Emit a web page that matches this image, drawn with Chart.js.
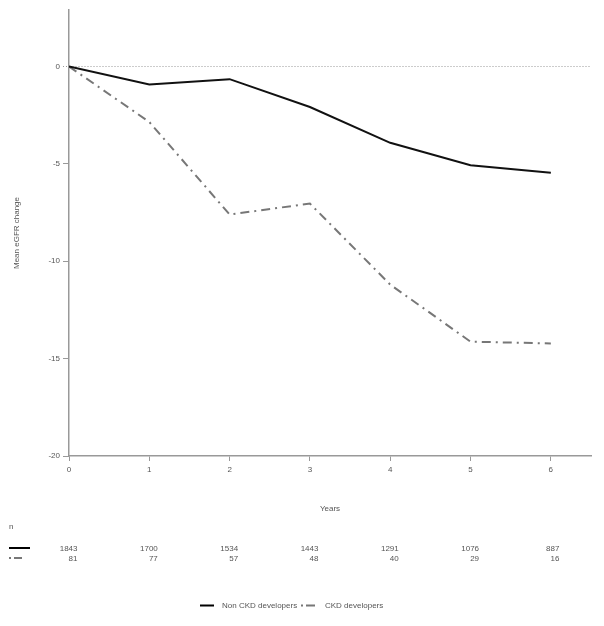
<!DOCTYPE html>
<html><head><meta charset="utf-8">
<script src="https://cdn.jsdelivr.net/npm/chart.js@4/dist/chart.umd.min.js"></script>
<style>html,body{margin:0;padding:0;background:#fff}#wrap{width:604px;height:626px;position:relative}</style>
</head><body><div id="wrap"><canvas id="c" width="604" height="626"></canvas></div>
<script>
const years = [0, 1, 2, 3, 4, 5, 6];
const nonCkd = [0, -0.92, -0.65, -2.08, -3.92, -5.07, -5.46];
const ckd = [0, -2.85, -7.6, -7.04, -11.2, -14.13, -14.22];
const seriesNames = ['Non CKD developers', 'CKD developers'];
const nNonCkd = [1843, 1700, 1534, 1443, 1291, 1076, 887];
const nCkd = [81, 77, 57, 48, 40, 29, 16];
const yTicks = [0, -5, -10, -15, -20];

const FONT = '"Liberation Sans", Arial, sans-serif';
const TXT = '#555';
const DASH = [9, 5, 2, 5];

const bottomPlugin = {
  id: 'bottomTable',
  afterDraw(chart) {
    const ctx = chart.ctx, x = chart.scales.x;
    ctx.save();
    ctx.font = '8px ' + FONT;
    ctx.fillStyle = TXT;
    ctx.textBaseline = 'middle';
    ctx.textAlign = 'left';
    ctx.fillText('n', 9, 527);
    ctx.lineWidth = 2;
    ctx.strokeStyle = '#000';
    ctx.beginPath(); ctx.moveTo(9, 548); ctx.lineTo(30, 548); ctx.stroke();
    ctx.strokeStyle = '#777';
    ctx.setLineDash([2, 3, 8, 20]);
    ctx.beginPath(); ctx.moveTo(9, 558); ctx.lineTo(25, 558); ctx.stroke();
    ctx.setLineDash([]);
    ctx.textAlign = 'right';
    years.forEach((yr, i) => {
      const px = x.getPixelForValue(yr) + 8.5;
      ctx.fillText(String(nNonCkd[i]), px, 549);
      ctx.fillText(String(nCkd[i]), px, 559);
    });
    ctx.textAlign = 'left';
    ctx.strokeStyle = '#000';
    ctx.beginPath(); ctx.moveTo(200, 605.5); ctx.lineTo(214, 605.5); ctx.stroke();
    ctx.fillText(seriesNames[0], 222, 606);
    ctx.strokeStyle = '#777';
    ctx.setLineDash([2, 3, 9, 20]);
    ctx.beginPath(); ctx.moveTo(301, 605.5); ctx.lineTo(317, 605.5); ctx.stroke();
    ctx.setLineDash([]);
    ctx.fillText(seriesNames[1], 325, 606);
    ctx.restore();
  }
};

new Chart(document.getElementById('c'), {
  type: 'line',
  data: {
    datasets: [
      { label: seriesNames[0], data: years.map((y, i) => ({x: y, y: nonCkd[i]})),
        borderColor: '#111', borderWidth: 2, pointRadius: 0, tension: 0, fill: false },
      { label: seriesNames[1], data: years.map((y, i) => ({x: y, y: ckd[i]})),
        borderColor: '#777', borderWidth: 2, borderDash: DASH, pointRadius: 0, tension: 0, fill: false }
    ]
  },
  options: {
    responsive: false,
    animation: false,
    layout: { padding: { left: 0, top: 10, right: 13, bottom: 110 } },
    plugins: { legend: { display: false }, tooltip: { enabled: false } },
    scales: {
      x: {
        type: 'linear', min: 0, max: 6.5,
        afterFit(s) { s.height = 60; },
        border: { display: true, color: '#999', width: 1.5 },
        grid: { drawOnChartArea: false, drawTicks: true, tickLength: 5, tickColor: '#999', tickWidth: 1 },
        ticks: { stepSize: 1, includeBounds: false, padding: 4, color: TXT, font: { family: FONT, size: 8 },
                 callback: v => String(v) },
        title: { display: true, text: 'Years', color: TXT, font: { family: FONT, size: 8 }, padding: { top: 0, bottom: 2 } }
      },
      y: {
        type: 'linear', min: -20, max: 2.9,
        afterFit(s) { s.width = 69; },
        afterBuildTicks(s) { s.ticks = yTicks.map(v => ({ value: v })); },
        border: { display: true, color: '#999', width: 1.5, dash: [1, 2] },
        grid: {
          drawOnChartArea: true, drawTicks: true, tickLength: 6,
          color: c => (c.tick && c.tick.value === 0) ? '#999' : 'rgba(0,0,0,0)',
          tickColor: c => (c.tick && c.tick.value === 0) ? '#999' : '#999',
          lineWidth: 1,
          tickBorderDash: c => (c.tick && c.tick.value === 0) ? [1, 2] : []
        },
        ticks: { padding: 3, color: TXT, font: { family: FONT, size: 8 }, callback: v => String(v) },
        title: { display: true, text: 'Mean eGFR change', color: TXT, font: { family: FONT, size: 8 }, padding: { top: 12, bottom: 0 } }
      }
    }
  },
  plugins: [bottomPlugin]
});
</script></body></html>
